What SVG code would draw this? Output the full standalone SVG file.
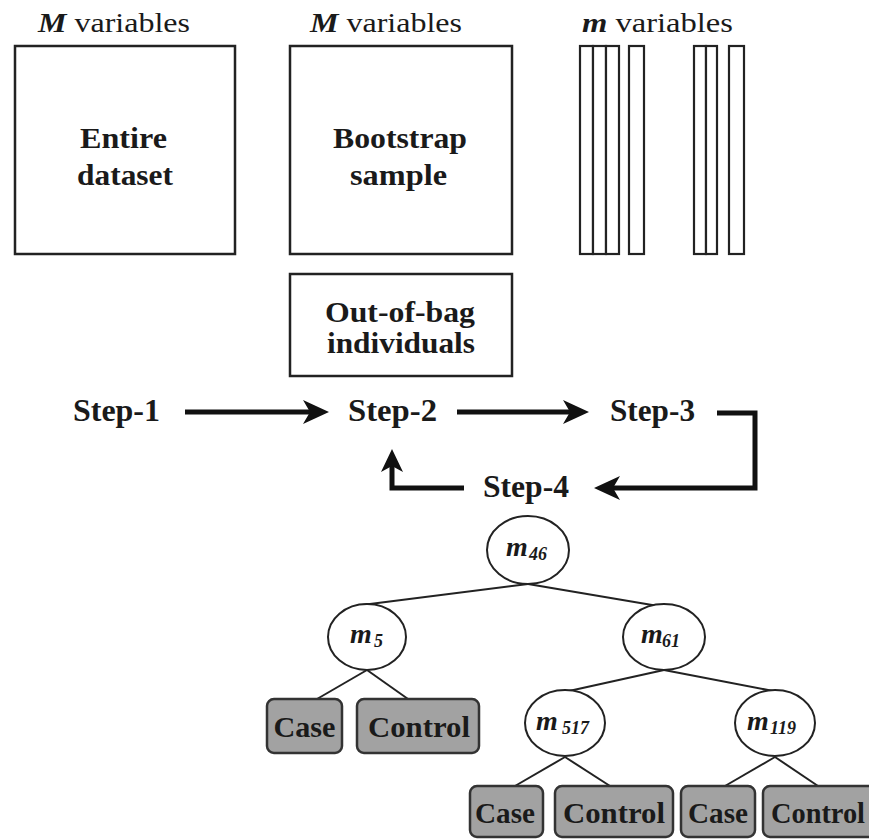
<svg xmlns="http://www.w3.org/2000/svg" width="869" height="839" viewBox="0 0 869 839">
<style>
.box{fill:#fff;stroke:#222;stroke-width:2.5}
.bar{fill:#fff;stroke:#222;stroke-width:2.2}
.t{font-family:"Liberation Serif","DejaVu Serif",serif;font-weight:bold;fill:#1a1a1a}
.hd{font-family:"Liberation Serif","DejaVu Serif",serif;fill:#1a1a1a;font-size:28px}
.mi{font-family:"Liberation Serif","DejaVu Serif",serif;font-weight:bold;font-style:italic;fill:#1a1a1a}
.node{fill:#fff;stroke:#222;stroke-width:2}
.leaf{fill:#a2a2a2;stroke:#333;stroke-width:2.5}
.edge{stroke:#222;stroke-width:2;fill:none}
.flow{stroke:#111;stroke-width:5;fill:none}
.head{fill:#111;stroke:none}
</style>
<rect width="869" height="839" fill="#fff"/>

<g id="entire-dataset">
<text class="hd" x="38" y="32" textLength="152" lengthAdjust="spacingAndGlyphs"><tspan font-weight="bold" font-style="italic">M</tspan> variables</text>
<rect class="box" x="15" y="46" width="220" height="208"/>
<text class="t" x="123.5" y="148" font-size="29" text-anchor="middle" textLength="87" lengthAdjust="spacingAndGlyphs">Entire</text>
<text class="t" x="125" y="185" font-size="29" text-anchor="middle" textLength="96" lengthAdjust="spacingAndGlyphs">dataset</text>
</g>

<g id="bootstrap-sample">
<text class="hd" x="310" y="32" textLength="152" lengthAdjust="spacingAndGlyphs"><tspan font-weight="bold" font-style="italic">M</tspan> variables</text>
<rect class="box" x="290" y="46" width="222" height="208"/>
<text class="t" x="400" y="148" font-size="29" text-anchor="middle" textLength="134" lengthAdjust="spacingAndGlyphs">Bootstrap</text>
<text class="t" x="398.5" y="185" font-size="29" text-anchor="middle" textLength="97" lengthAdjust="spacingAndGlyphs">sample</text>
</g>

<g id="m-variables">
<text class="hd" x="582" y="32" textLength="151" lengthAdjust="spacingAndGlyphs"><tspan font-weight="bold" font-style="italic">m</tspan> variables</text>
<rect class="bar" x="580" y="46" width="13" height="208"/>
<rect class="bar" x="593" y="46" width="13" height="208"/>
<rect class="bar" x="606" y="46" width="13" height="208"/>
<rect class="bar" x="629" y="46" width="15" height="208"/>
<rect class="bar" x="694" y="46" width="12" height="208"/>
<rect class="bar" x="706" y="46" width="11" height="208"/>
<rect class="bar" x="729" y="46" width="15" height="208"/>
</g>

<g id="out-of-bag">
<rect class="box" x="290" y="274" width="222" height="102"/>
<text class="t" x="400" y="322" font-size="29" text-anchor="middle" textLength="150" lengthAdjust="spacingAndGlyphs">Out-of-bag</text>
<text class="t" x="401" y="353" font-size="29" text-anchor="middle" textLength="148" lengthAdjust="spacingAndGlyphs">individuals</text>
</g>

<g id="step-1"><text class="t" x="73" y="421" font-size="31" textLength="87" lengthAdjust="spacingAndGlyphs">Step-1</text></g>
<g id="step-2"><text class="t" x="348" y="421" font-size="31" textLength="89" lengthAdjust="spacingAndGlyphs">Step-2</text></g>
<g id="step-3"><text class="t" x="610" y="421" font-size="31" textLength="85" lengthAdjust="spacingAndGlyphs">Step-3</text></g>
<g id="step-4"><text class="t" x="483" y="497" font-size="31" textLength="86" lengthAdjust="spacingAndGlyphs">Step-4</text></g>

<g id="connectors">
<path class="flow" d="M185 412 H318"/>
<path class="head" d="M329 412 L303 400 L310 412 L303 424 Z"/>
<path class="flow" d="M457 412 H578"/>
<path class="head" d="M589 412 L563 400 L570 412 L563 424 Z"/>
<path class="flow" d="M717 413 H755 V488 H606"/>
<path class="head" d="M594 488 L620 476 L613 488 L620 500 Z"/>
<path class="flow" d="M464 488 H392 V460"/>
<path class="head" d="M392 449 L381 472 L392 466 L403 472 Z"/>
<path class="edge" d="M528 584 L362 605"/>
<path class="edge" d="M528 584 L658 606"/>
<path class="edge" d="M367 670 L317 699"/>
<path class="edge" d="M367 670 L408 699"/>
<path class="edge" d="M664 670 L569 691"/>
<path class="edge" d="M664 670 L773 691"/>
<path class="edge" d="M565 757 L515 786"/>
<path class="edge" d="M565 757 L610 786"/>
<path class="edge" d="M775 757 L725 786"/>
<path class="edge" d="M775 757 L818 786"/>
</g>

<g id="m46">
<ellipse class="node" cx="528" cy="550" rx="41" ry="34"/>
<text class="mi" x="506" y="556" font-size="28">m</text>
<text class="mi" x="529" y="560" font-size="18">46</text>
</g>
<g id="m5">
<ellipse class="node" cx="367" cy="637" rx="39" ry="33"/>
<text class="mi" x="350" y="643" font-size="28">m</text>
<text class="mi" x="374" y="647" font-size="18">5</text>
</g>
<g id="m61">
<ellipse class="node" cx="664" cy="637" rx="41" ry="33"/>
<text class="mi" x="641" y="643" font-size="28">m</text>
<text class="mi" x="662" y="647" font-size="18">61</text>
</g>
<g id="m517">
<ellipse class="node" cx="565" cy="723" rx="40" ry="33"/>
<text class="mi" x="536" y="730" font-size="28">m</text>
<text class="mi" x="562" y="734" font-size="18">517</text>
</g>
<g id="m119">
<ellipse class="node" cx="775" cy="723" rx="40" ry="33"/>
<text class="mi" x="747" y="730" font-size="28">m</text>
<text class="mi" x="770" y="734" font-size="18">119</text>
</g>

<g id="leaf-case-1">
<rect class="leaf" x="267" y="699" width="75" height="54" rx="7"/>
<text class="t" x="304.5" y="737" font-size="30" text-anchor="middle" textLength="62" lengthAdjust="spacingAndGlyphs">Case</text>
</g>
<g id="leaf-control-1">
<rect class="leaf" x="357" y="699" width="122" height="54" rx="7"/>
<text class="t" x="419" y="737" font-size="30" text-anchor="middle" textLength="102" lengthAdjust="spacingAndGlyphs">Control</text>
</g>
<g id="leaf-case-2">
<rect class="leaf" x="470" y="786" width="73" height="51" rx="7"/>
<text class="t" x="505" y="823" font-size="30" text-anchor="middle" textLength="60" lengthAdjust="spacingAndGlyphs">Case</text>
</g>
<g id="leaf-control-2">
<rect class="leaf" x="555" y="786" width="118" height="51" rx="7"/>
<text class="t" x="614" y="823" font-size="30" text-anchor="middle" textLength="102" lengthAdjust="spacingAndGlyphs">Control</text>
</g>
<g id="leaf-case-3">
<rect class="leaf" x="681" y="786" width="74" height="51" rx="7"/>
<text class="t" x="718" y="823" font-size="30" text-anchor="middle" textLength="60" lengthAdjust="spacingAndGlyphs">Case</text>
</g>
<g id="leaf-control-3">
<rect class="leaf" x="763" y="786" width="118" height="51" rx="7"/>
<text class="t" x="771" y="823" font-size="30" textLength="94" lengthAdjust="spacingAndGlyphs">Control</text>
</g>
</svg>
